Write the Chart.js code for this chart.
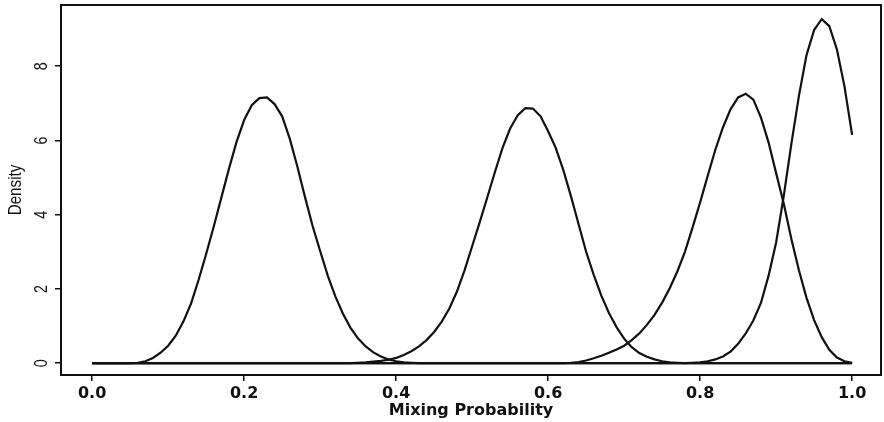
<!DOCTYPE html>
<html>
<head>
<meta charset="utf-8">
<script src="https://cdn.jsdelivr.net/npm/chart.js@4.4.1/dist/chart.umd.min.js"></script>
<style>
  html, body { margin: 0; padding: 0; background: #fff; }
  #grafica { display: block; }
</style>
</head>
<body>
<canvas id="grafica" width="884" height="422"></canvas>
<script>
// valores, rejilla de 0.01 en x
const xs = [0.00,0.01,0.02,0.03,0.04,0.05,0.06,0.07,0.08,0.09,
            0.10,0.11,0.12,0.13,0.14,0.15,0.16,0.17,0.18,0.19,
            0.20,0.21,0.22,0.23,0.24,0.25,0.26,0.27,0.28,0.29,
            0.30,0.31,0.32,0.33,0.34,0.35,0.36,0.37,0.38,0.39,
            0.40,0.41,0.42,0.43,0.44,0.45,0.46,0.47,0.48,0.49,
            0.50,0.51,0.52,0.53,0.54,0.55,0.56,0.57,0.58,0.59,
            0.60,0.61,0.62,0.63,0.64,0.65,0.66,0.67,0.68,0.69,
            0.70,0.71,0.72,0.73,0.74,0.75,0.76,0.77,0.78,0.79,
            0.80,0.81,0.82,0.83,0.84,0.85,0.86,0.87,0.88,0.89,
            0.90,0.91,0.92,0.93,0.94,0.95,0.96,0.97,0.98,0.99,
            1.00];

const curva1 = [0,0,0,0,0,0,0.01,0.05,0.14,0.28,
                0.47,0.74,1.12,1.60,2.24,2.94,3.68,4.46,5.24,5.96,
                6.55,6.95,7.14,7.16,6.98,6.65,6.05,5.30,4.48,3.70,
                3.02,2.36,1.80,1.33,0.95,0.66,0.45,0.29,0.18,0.10,
                0.05,0.02,0.01,0,0,0,0,0,0,0,
                0,0,0,0,0,0,0,0,0,0,
                0,0,0,0,0,0,0,0,0,0,
                0,0,0,0,0,0,0,0,0,0,
                0,0,0,0,0,0,0,0,0,0,
                0,0,0,0,0,0,0,0,0,0,
                0];

const curva2 = [0,0,0,0,0,0,0,0,0,0,
                0,0,0,0,0,0,0,0,0,0,
                0,0,0,0,0,0,0,0,0,0,
                0,0,0,0,0,0.01,0.02,0.04,0.06,0.09,
                0.14,0.22,0.32,0.45,0.62,0.84,1.12,1.47,1.93,2.50,
                3.15,3.80,4.47,5.15,5.80,6.32,6.68,6.87,6.86,6.65,
                6.25,5.80,5.20,4.50,3.75,3.00,2.38,1.82,1.35,0.97,
                0.66,0.43,0.27,0.17,0.10,0.05,0.02,0.01,0,0,
                0,0,0,0,0,0,0,0,0,0,
                0,0,0,0,0,0,0,0,0,0,
                0];

const curva3 = [0,0,0,0,0,0,0,0,0,0,
                0,0,0,0,0,0,0,0,0,0,
                0,0,0,0,0,0,0,0,0,0,
                0,0,0,0,0,0,0,0,0,0,
                0,0,0,0,0,0,0,0,0,0,
                0,0,0,0,0,0,0,0,0,0,
                0,0,0,0.01,0.03,0.07,0.13,0.20,0.28,0.37,
                0.47,0.62,0.80,1.03,1.30,1.63,2.02,2.47,3.00,3.65,
                4.33,5.05,5.75,6.35,6.84,7.16,7.26,7.10,6.62,5.95,
                5.12,4.30,3.35,2.50,1.76,1.16,0.70,0.36,0.15,0.05,
                0.01];

const curva4 = [0,0,0,0,0,0,0,0,0,0,
                0,0,0,0,0,0,0,0,0,0,
                0,0,0,0,0,0,0,0,0,0,
                0,0,0,0,0,0,0,0,0,0,
                0,0,0,0,0,0,0,0,0,0,
                0,0,0,0,0,0,0,0,0,0,
                0,0,0,0,0,0,0,0,0,0,
                0,0,0,0,0,0,0,0,0,0.01,
                0.02,0.05,0.10,0.18,0.31,0.52,0.80,1.15,1.62,2.35,
                3.25,4.50,5.90,7.20,8.30,8.98,9.27,9.08,8.45,7.45,
                6.15];

const xTicks = [0.0, 0.2, 0.4, 0.6, 0.8, 1.0];
const yTicks = [0, 2, 4, 6, 8];

const tinta = '#111';
const fuenteY = "'Liberation Sans', Arial, sans-serif";
const fuenteX = "'DejaVu Sans', 'Liberation Sans', sans-serif";

function puntos(ys) {
  return xs.map((x, i) => ({ x: x, y: ys[i] }));
}

// texto girado y estrechado (estilo Arial Narrow del original)
function textoVertical(ctx, texto, x, y) {
  ctx.save();
  ctx.translate(x, y);
  ctx.rotate(-Math.PI / 2);
  ctx.scale(0.8, 1);
  ctx.fillText(texto, 0, 0);
  ctx.restore();
}

// caja del grafico, etiquetas y titulo del eje y
const marco = {
  id: 'marco',
  afterDraw(chart) {
    const ctx = chart.ctx;
    const a = chart.chartArea;
    ctx.save();
    ctx.strokeStyle = tinta;
    ctx.lineWidth = 2;
    ctx.strokeRect(a.left, a.top, a.right - a.left, a.bottom - a.top);

    const y = chart.scales.y;
    ctx.fillStyle = tinta;
    ctx.textAlign = 'center';
    ctx.textBaseline = 'middle';
    ctx.font = '18px ' + fuenteY;
    for (const v of yTicks) {
      textoVertical(ctx, String(v), 42, y.getPixelForValue(v));
    }
    ctx.font = '19px ' + fuenteY;
    textoVertical(ctx, 'Density', 16, (a.top + a.bottom) / 2);
    ctx.restore();
  }
};

const estiloCurva = {
  borderColor: tinta,
  borderWidth: 2.2,
  pointRadius: 0,
  fill: false,
  tension: 0
};

new Chart(document.getElementById('grafica'), {
  type: 'line',
  data: {
    datasets: [
      { ...estiloCurva, label: 'curva1', data: puntos(curva1) },
      { ...estiloCurva, label: 'curva2', data: puntos(curva2) },
      { ...estiloCurva, label: 'curva3', data: puntos(curva3) },
      { ...estiloCurva, label: 'curva4', data: puntos(curva4) }
    ]
  },
  options: {
    responsive: false,
    animation: false,
    devicePixelRatio: 1,
    layout: { padding: { left: 0, right: 3, top: 5, bottom: 0 } },
    plugins: { legend: { display: false }, tooltip: { enabled: false } },
    scales: {
      x: {
        type: 'linear',
        min: -0.041,
        max: 1.038,
        afterBuildTicks: (s) => { s.ticks = xTicks.map(v => ({ value: v })); },
        afterFit: (s) => { s.height = 47; },
        border: { display: false },
        grid: { drawOnChartArea: false, drawTicks: true, tickLength: 6, color: tinta, lineWidth: 1.5 },
        ticks: {
          color: tinta,
          padding: 3,
          maxRotation: 0,
          font: { family: fuenteX, size: 16, weight: 'bold' },
          callback: (v) => Number(v).toFixed(1)
        },
        title: {
          display: true,
          text: 'Mixing Probability',
          color: tinta,
          font: { family: fuenteX, size: 16, weight: 'bold' },
          padding: { top: 0, bottom: 2 }
        }
      },
      y: {
        type: 'linear',
        min: -0.32,
        max: 9.65,
        afterBuildTicks: (s) => { s.ticks = yTicks.map(v => ({ value: v })); },
        afterFit: (s) => { s.width = 61; },
        border: { display: false },
        grid: { drawOnChartArea: false, drawTicks: true, tickLength: 6, color: tinta, lineWidth: 1.5 },
        ticks: { display: false }
      }
    }
  },
  plugins: [marco]
});
</script>
</body>
</html>
